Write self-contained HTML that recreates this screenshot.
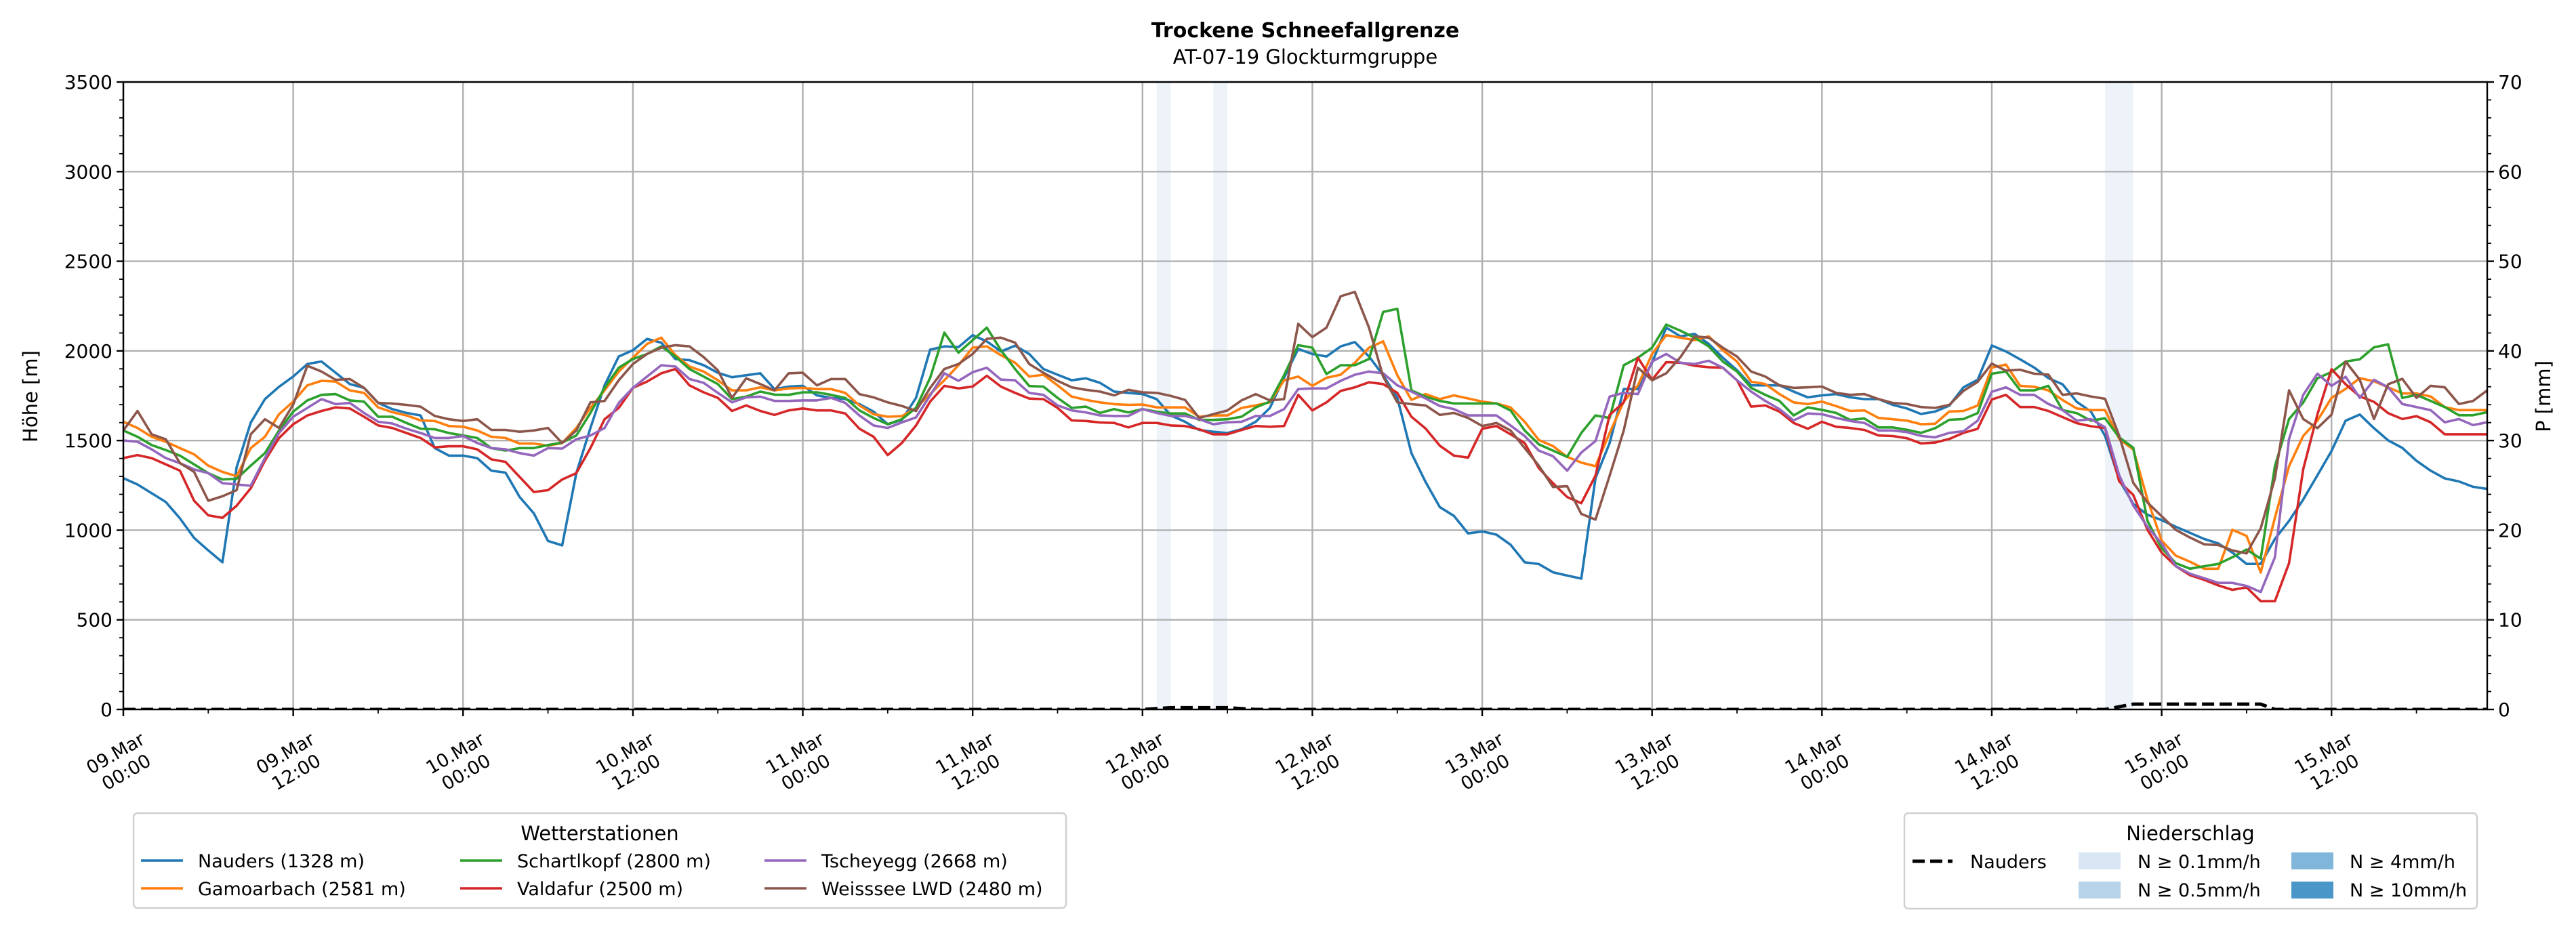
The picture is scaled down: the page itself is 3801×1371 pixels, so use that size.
<!DOCTYPE html>
<html><head><meta charset="utf-8"><title>Trockene Schneefallgrenze</title>
<style>
html,body{margin:0;padding:0;background:#fff;}
svg{display:block;font-family:"DejaVu Sans","Liberation Sans",sans-serif;}
</style></head>
<body>
<svg id="chart" xmlns="http://www.w3.org/2000/svg" width="3801" height="1371" viewBox="0 0 3801 1371">
<defs><clipPath id="plotclip"><rect x="182" y="121" width="3488" height="926"/></clipPath></defs>
<rect x="0" y="0" width="3801" height="1371" fill="#fff"/>
<text x="1926" y="55" text-anchor="middle" font-size="30" font-weight="bold">Trockene Schneefallgrenze</text>
<text x="1926" y="94" text-anchor="middle" font-size="29">AT-07-19 Glockturmgruppe</text>
<g id="bands"></g>
<g id="grid"></g>
<g id="series" clip-path="url(#plotclip)"></g>
<g id="axes"></g>
<text transform="translate(55,585) rotate(-90)" text-anchor="middle" font-size="29">Höhe [m]</text>
<text transform="translate(3763,585) rotate(-90)" text-anchor="middle" font-size="29">P [mm]</text>

<g>
<rect x="197" y="1200" width="1376" height="140" rx="6" fill="#fff" stroke="#cfcfcf" stroke-width="2.4"/>
<text x="885" y="1240" text-anchor="middle" font-size="29">Wetterstationen</text>
<line x1="208" y1="1270" x2="270" y2="1270" stroke="#1f77b4" stroke-width="3.6"/>
<text x="292" y="1280" font-size="27">Nauders (1328 m)</text>
<line x1="208" y1="1311" x2="270" y2="1311" stroke="#ff7f0e" stroke-width="3.6"/>
<text x="292" y="1321" font-size="27">Gamoarbach (2581 m)</text>
<line x1="679" y1="1270" x2="741" y2="1270" stroke="#2ca02c" stroke-width="3.6"/>
<text x="763" y="1280" font-size="27">Schartlkopf (2800 m)</text>
<line x1="679" y1="1311" x2="741" y2="1311" stroke="#d62728" stroke-width="3.6"/>
<text x="763" y="1321" font-size="27">Valdafur (2500 m)</text>
<line x1="1128" y1="1270" x2="1190" y2="1270" stroke="#9467bd" stroke-width="3.6"/>
<text x="1212" y="1280" font-size="27">Tscheyegg (2668 m)</text>
<line x1="1128" y1="1311" x2="1190" y2="1311" stroke="#8c564b" stroke-width="3.6"/>
<text x="1212" y="1321" font-size="27">Weisssee LWD (2480 m)</text>
</g>

<g>
<rect x="2810" y="1200" width="845" height="141" rx="6" fill="#fff" stroke="#cfcfcf" stroke-width="2.4"/>
<text x="3232" y="1240" text-anchor="middle" font-size="29">Niederschlag</text>
<line x1="2822" y1="1271" x2="2881" y2="1271" stroke="#000" stroke-width="5" stroke-dasharray="18,8"/>
<text x="2907" y="1281" font-size="27">Nauders</text>
<rect x="3067" y="1258" width="62" height="25" fill="#d9e7f5"/>
<text x="3154" y="1281" font-size="27">N ≥ 0.1mm/h</text>
<rect x="3067" y="1301" width="62" height="25" fill="#b8d4ea"/>
<text x="3154" y="1323" font-size="27">N ≥ 0.5mm/h</text>
<rect x="3381" y="1258" width="62" height="25" fill="#80b6d9"/>
<text x="3467" y="1281" font-size="27">N ≥ 4mm/h</text>
<rect x="3381" y="1301" width="62" height="25" fill="#4a96c8"/>
<text x="3467" y="1323" font-size="27">N ≥ 10mm/h</text>
</g>
</svg>
<script>
const nauders = [1290,1255,1206,1157,1066,957,887,821,1350,1600,1731,1800,1857,1927,1941,1878,1815,1794,1710,1675,1654,1640,1458,1416,1416,1402,1332,1321,1185,1094,940,915,1318,1570,1808,1969,2004,2067,2046,1955,1948,1920,
1878,1853,1864,1875,1787,1801,1805,1752,1738,1731,1703,1661,1591,1615,1738,2007,2025,2021,2088,2053,1997,2029,1983,1899,1867,1836,1847,1822,1773,1766,1759,1731,1640,1605,1559,1549,1542,1563,1605,1682,1850,2011,
1983,1969,2025,2049,1969,1864,1738,1430,1269,1129,1080,982,993,975,919,821,811,765,747,730,1290,1486,1787,1787,1934,2130,2081,2095,2039,1962,1892,1808,1808,1808,1773,1741,1752,1759,1741,1731,1731,1699,
1679,1648,1662,1695,1797,1839,2030,1997,1953,1907,1848,1814,1716,1662,1526,1281,1146,1086,1056,1019,985,951,926,875,812,812,951,1052,1171,1306,1442,1611,1645,1569,1501,1459,1387,1332,1289,1272,1242,1230];
const gamoarbach = [1605,1570,1521,1493,1458,1423,1360,1325,1301,1458,1521,1647,1717,1808,1833,1829,1780,1766,1685,1658,1640,1612,1609,1581,1577,1556,1521,1514,1483,1483,1472,1486,1570,1682,1780,1885,1962,2039,2074,1976,1913,1885,
1836,1780,1780,1797,1780,1791,1794,1787,1787,1766,1696,1647,1633,1636,1682,1759,1836,1920,2018,2025,1976,1934,1857,1867,1808,1745,1727,1713,1703,1699,1701,1685,1685,1685,1633,1640,1640,1682,1696,1713,1836,1857,
1805,1850,1867,1934,2018,2053,1864,1727,1759,1731,1752,1735,1717,1707,1685,1605,1503,1469,1409,1377,1357,1542,1717,1808,1983,2088,2074,2060,2081,2004,1941,1829,1815,1759,1713,1703,1717,1692,1665,1668,1626,1619,
1611,1591,1594,1662,1665,1695,1907,1924,1805,1800,1780,1726,1679,1670,1670,1509,1450,1171,942,858,824,785,785,1002,968,764,1069,1357,1526,1611,1738,1788,1848,1831,1797,1763,1763,1746,1687,1670,1670,1670];
const schartlkopf = [1556,1521,1475,1447,1416,1367,1318,1283,1287,1360,1430,1556,1661,1724,1755,1759,1724,1717,1633,1633,1598,1566,1563,1542,1528,1514,1458,1444,1458,1458,1475,1489,1528,1654,1794,1906,1955,1983,2025,1969,1899,1857,
1815,1731,1745,1773,1756,1755,1769,1769,1755,1738,1668,1626,1591,1619,1682,1850,2102,1990,2060,2130,2004,1899,1804,1801,1738,1682,1689,1654,1675,1657,1675,1661,1651,1651,1615,1615,1619,1633,1685,1717,1864,2032,
2018,1871,1920,1920,1955,2217,2235,1780,1745,1721,1707,1707,1707,1707,1668,1556,1479,1444,1409,1542,1640,1626,1920,1962,2018,2147,2113,2074,2025,1941,1885,1794,1755,1721,1640,1685,1671,1654,1615,1623,1573,1573,
1560,1543,1569,1616,1620,1653,1873,1885,1780,1780,1805,1670,1653,1611,1624,1518,1459,1052,900,816,785,799,812,849,892,841,1357,1620,1712,1848,1882,1941,1953,2020,2037,1738,1755,1721,1687,1641,1641,1658];
const valdafur = [1402,1419,1402,1367,1332,1164,1083,1069,1136,1234,1388,1514,1591,1640,1665,1685,1679,1633,1584,1570,1542,1514,1462,1468,1468,1451,1395,1381,1297,1213,1223,1283,1318,1458,1619,1682,1794,1829,1875,1899,1808,1769,
1738,1665,1696,1665,1643,1668,1679,1668,1668,1651,1566,1521,1419,1486,1584,1717,1805,1791,1801,1861,1801,1766,1734,1731,1682,1612,1609,1601,1598,1573,1598,1598,1584,1581,1563,1535,1535,1559,1581,1577,1581,1755,
1668,1713,1777,1797,1825,1815,1766,1633,1567,1472,1416,1405,1566,1581,1535,1486,1346,1262,1185,1150,1304,1643,1713,1962,1839,1937,1934,1917,1909,1906,1836,1689,1696,1661,1598,1566,1605,1577,1570,1559,1528,1525,
1513,1484,1489,1509,1543,1565,1729,1755,1687,1687,1665,1631,1597,1580,1569,1272,1196,1002,875,799,749,723,692,667,681,604,604,816,1340,1645,1898,1814,1746,1716,1653,1620,1636,1602,1535,1535,1535,1535];
const tscheyegg = [1500,1493,1451,1402,1374,1339,1318,1262,1255,1248,1402,1542,1633,1682,1731,1703,1710,1654,1605,1595,1566,1542,1514,1514,1525,1486,1458,1451,1430,1416,1458,1455,1507,1528,1570,1710,1794,1857,1920,1913,1843,1822,
1766,1713,1741,1745,1721,1721,1724,1724,1738,1710,1640,1584,1570,1601,1629,1752,1875,1833,1881,1906,1840,1836,1766,1755,1696,1668,1657,1640,1637,1637,1675,1654,1637,1637,1619,1591,1602,1605,1637,1637,1675,1787,
1791,1791,1833,1867,1885,1875,1808,1773,1735,1693,1675,1640,1640,1640,1584,1525,1444,1413,1332,1433,1497,1745,1766,1759,1941,1983,1934,1927,1945,1906,1836,1773,1721,1675,1612,1651,1647,1626,1609,1598,1556,1556,
1547,1526,1518,1543,1552,1611,1772,1797,1755,1755,1704,1670,1611,1620,1574,1306,1137,1019,926,799,757,732,706,706,689,655,849,1509,1755,1873,1805,1856,1738,1839,1797,1704,1687,1670,1602,1620,1586,1602];
const weisssee = [1556,1665,1535,1507,1374,1325,1164,1189,1223,1535,1619,1570,1700,1917,1885,1839,1843,1794,1710,1706,1699,1689,1637,1619,1609,1619,1559,1559,1549,1556,1570,1486,1556,1713,1721,1836,1927,1983,2018,2032,2025,1965,
1892,1738,1847,1815,1780,1875,1878,1808,1843,1843,1759,1741,1713,1693,1665,1794,1899,1927,1983,2067,2074,2046,1927,1878,1833,1797,1783,1773,1752,1783,1769,1766,1749,1727,1626,1647,1668,1724,1759,1724,1731,2151,
2077,2130,2305,2329,2130,1857,1713,1703,1696,1643,1654,1626,1581,1598,1556,1458,1360,1241,1245,1091,1059,1304,1556,1906,1836,1875,1965,2081,2074,2018,1969,1885,1857,1808,1794,1797,1801,1766,1755,1759,1731,1710,
1704,1687,1682,1699,1777,1827,1929,1890,1895,1873,1868,1755,1763,1746,1733,1526,1264,1154,1078,1002,959,921,917,887,870,1010,1289,1780,1620,1569,1645,1941,1839,1620,1814,1844,1738,1805,1797,1704,1721,1780];
const precipNauders = [
0,0,0,0,0,0,0,0,0,0,0,0,
0,0,0,0,0,0,0,0,0,0,0,0,
0,0,0,0,0,0,0,0,0,0,0,0,
0,0,0,0,0,0,0,0,0,0,0,0,
0,0,0,0,0,0,0,0,0,0,0,0,
0,0,0,0,0,0,0,0,0,0,0,0,
0,0.1,0.2,0.2,0.2,0.2,0.2,0.1,0,0,0,0,
0,0,0,0,0,0,0,0,0,0,0,0,
0,0,0,0,0,0,0,0,0,0,0,0,
0,0,0,0,0,0,0,0,0,0,0,0,
0,0,0,0,0,0,0,0,0,0,0,0,
0,0,0,0,0,0,0,0,0,0.3,0.6,0.6,
0.6,0.6,0.6,0.6,0.6,0.6,0.6,0.6,0,0,0,0,
0,0,0,0,0,0,0,0,0,0,0,0];
const precipBandHours = [73, 77, 140, 141];
const yTicks = [0,500,1000,1500,2000,2500,3000,3500];
const y2Ticks = [0,10,20,30,40,50,60,70];
const xTickDays = ["09.Mar","09.Mar","10.Mar","10.Mar","11.Mar","11.Mar","12.Mar","12.Mar","13.Mar","13.Mar","14.Mar","14.Mar","15.Mar","15.Mar"];
const xTickTimes = ["00:00","12:00","00:00","12:00","00:00","12:00","00:00","12:00","00:00","12:00","00:00","12:00","00:00","12:00"];

const NS = "http://www.w3.org/2000/svg";
const L = 182, R = 3670, T = 121, B = 1047, HMAX = 167, YMAX = 3500, PMAX = 70;
const xs = h => L + h / HMAX * (R - L);
const ys = v => B - v / YMAX * (B - T);
const yp = p => B - p / PMAX * (B - T);
function mk(tag, attrs, parent) {
  const e = document.createElementNS(NS, tag);
  for (const k in attrs) e.setAttribute(k, attrs[k]);
  parent.appendChild(e);
  return e;
}
const bands = document.getElementById('bands');
const grid = document.getElementById('grid');
const series = document.getElementById('series');
const axes = document.getElementById('axes');

precipBandHours.forEach(h => {
  const r = mk('rect', {x: xs(h), y: T, width: xs(h + 1) - xs(h), height: B - T, fill: '#eef3fa'}, bands);
  
  
});

yTicks.forEach(v => {
  const g = mk('line', {x1: L, x2: R, y1: ys(v), y2: ys(v), stroke: '#b0b0b0', 'stroke-width': 2.4}, grid);
  
  
});
xTickDays.forEach((d, i) => {
  const x = xs(i * 12);
  const g = mk('line', {x1: x, x2: x, y1: T, y2: B, stroke: '#b0b0b0', 'stroke-width': 2.4}, grid);
  
  
});

const stations = [
  ['nauders', nauders, '#1f77b4'], ['gamoarbach', gamoarbach, '#ff7f0e'], ['schartlkopf', schartlkopf, '#2ca02c'],
  ['valdafur', valdafur, '#d62728'], ['tscheyegg', tscheyegg, '#9467bd'], ['weisssee', weisssee, '#8c564b']
];
stations.forEach(([name, arr, col]) => {
  const d = arr.map((v, i) => (i ? 'L' : 'M') + xs(i).toFixed(1) + ',' + ys(v).toFixed(1)).join(' ');
  const p = mk('path', {d: d, fill: 'none', stroke: col, 'stroke-width': 3.6, 'stroke-linejoin': 'round'}, series);
  
  
});
{
  const d = precipNauders.map((v, i) => (i ? 'L' : 'M') + xs(i).toFixed(1) + ',' + yp(v).toFixed(1)).join(' ');
  const p = mk('path', {d: d, fill: 'none', stroke: '#000', 'stroke-width': 5, 'stroke-dasharray': '18,8'}, series);
  
  
}

mk('rect', {x: L, y: T, width: R - L, height: B - T, fill: 'none', stroke: '#000', 'stroke-width': 2.4}, axes);
yTicks.forEach(v => {
  mk('line', {x1: L - 10, x2: L, y1: ys(v), y2: ys(v), stroke: '#000', 'stroke-width': 2.4}, axes);
  const t = mk('text', {x: L - 16, y: ys(v) + 10, 'text-anchor': 'end', 'font-size': 28}, axes);
  t.textContent = v;
  
  
});
for (let v = 100; v < YMAX; v += 100) {
  if (v % 500) mk('line', {x1: L - 6, x2: L, y1: ys(v), y2: ys(v), stroke: '#000', 'stroke-width': 1.8}, axes);
}
y2Ticks.forEach(p => {
  mk('line', {x1: R, x2: R + 10, y1: yp(p), y2: yp(p), stroke: '#000', 'stroke-width': 2.4}, axes);
  const t = mk('text', {x: R + 16, y: yp(p) + 10, 'font-size': 28}, axes);
  t.textContent = p;
  
  
});
for (let p = 2; p < PMAX; p += 2) {
  if (p % 10) mk('line', {x1: R, x2: R + 6, y1: yp(p), y2: yp(p), stroke: '#000', 'stroke-width': 1.8}, axes);
}
xTickDays.forEach((d, i) => {
  const x = xs(i * 12);
  mk('line', {x1: x, x2: x, y1: B, y2: B + 10, stroke: '#000', 'stroke-width': 2.4}, axes);
  mk('line', {x1: xs(i * 12 + 6), x2: xs(i * 12 + 6), y1: B, y2: B + 6, stroke: '#000', 'stroke-width': 1.8}, axes);
  const t = mk('text', {transform: 'translate(' + (x - 4) + ',1125) rotate(-30)', 'text-anchor': 'middle', 'font-size': 27}, axes);
  
  
  const a = mk('tspan', {x: 0, y: -6}, t); a.textContent = d;
  const b = mk('tspan', {x: 0, y: 26}, t); b.textContent = xTickTimes[i];
});
</script>
</body></html>
